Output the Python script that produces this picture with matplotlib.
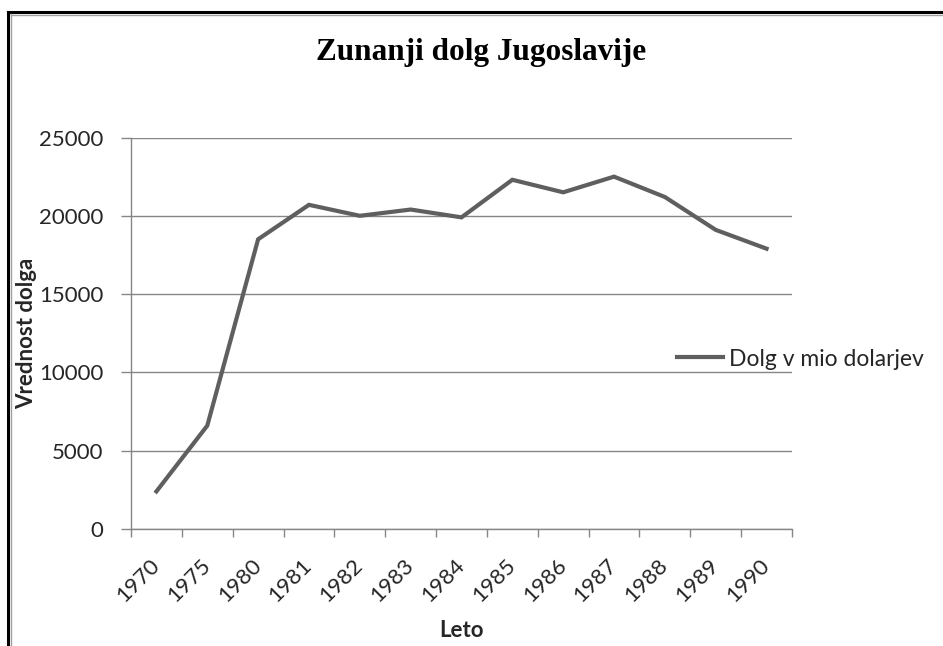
import matplotlib.pyplot as plt
from matplotlib.lines import Line2D

# Podatki
leta = ['1970', '1975', '1980', '1981', '1982', '1983', '1984',
        '1985', '1986', '1987', '1988', '1989', '1990']
dolg = [2400, 6600, 18500, 20700, 20000, 20400, 19900,
        22300, 21500, 22500, 21200, 19100, 17900]

W, H = 943, 646
fig = plt.figure(figsize=(W / 100, H / 100), dpi=100)
ax_h = 529 - 137.5
ax = fig.add_axes([131 / W, 1 - 529 / H, (792 - 131) / W, ax_h / H])

siva = '#868686'
crta = '#5f5f5f'
tekst = '#262626'
font = 'Lato'
fs = 16

x = list(range(len(leta)))
ax.plot(x, dolg, color=crta, lw=3.0, solid_joinstyle='miter',
        label='Dolg v mio dolarjev')

ax.set_xlim(-0.5, len(leta) - 0.5)
ax.set_ylim(0, 25000)
ax.set_yticks(range(0, 25001, 5000))
ax.yaxis.grid(True, color=siva, lw=1)
ax.set_axisbelow(True)

ax.set_xticks(x)
ax.set_xticklabels(leta, rotation=45, ha='right', va='center',
                   rotation_mode='anchor', fontsize=fs, family=font, color=tekst)
ax.set_xticks([i - 0.5 for i in range(len(leta) + 1)], minor=True)
ax.tick_params(axis='x', which='major', length=0, pad=24)
ax.tick_params(axis='x', which='minor', length=6, color=siva, width=1)
ax.tick_params(axis='y', length=7, color=siva, width=1, pad=13)
for lab in ax.get_yticklabels():
    lab.set_fontsize(fs)
    lab.set_family(font)
    lab.set_color(tekst)

for s in ['top', 'right']:
    ax.spines[s].set_visible(False)
for s in ['left', 'bottom']:
    ax.spines[s].set_color(siva)
    ax.spines[s].set_linewidth(1)

ax.set_xlabel('Leto', fontsize=fs, family=font, fontweight='bold', color=tekst)
ax.xaxis.set_label_coords(0.5, -(620 - 529) / ax_h)
ax.set_ylabel('Vrednost dolga', fontsize=fs, family=font, fontweight='bold',
              color=tekst)
ax.yaxis.set_label_coords((37 - 131) / 661, 0.5)

fig.text(481 / W, 1 - 60 / H, 'Zunanji dolg Jugoslavije', ha='center',
         va='baseline', fontsize=22.5, family='Liberation Serif',
         fontweight='bold', color='black')

ax.legend(loc='center left', bbox_to_anchor=(666 / W, 1 - 359 / H),
          bbox_transform=fig.transFigure, frameon=False,
          prop={'family': font, 'size': fs + 0.5}, handlelength=2.0,
          handletextpad=0.25, borderpad=0, labelcolor=tekst)

# okvir grafikona
fig.add_artist(Line2D([8 / W, 8 / W], [0, 1 - 12 / H], color='black', lw=2.2))
fig.add_artist(Line2D([8 / W, 1], [1 - 12 / H, 1 - 12 / H], color='black', lw=2.2))
fig.add_artist(Line2D([10.5 / W, 10.5 / W], [0, 1 - 14 / H], color='#a0a0a0', lw=1))
fig.add_artist(Line2D([10.5 / W, 1], [1 - 14.5 / H, 1 - 14.5 / H], color='#a0a0a0', lw=1))

fig.savefig('out.png', dpi=100)
